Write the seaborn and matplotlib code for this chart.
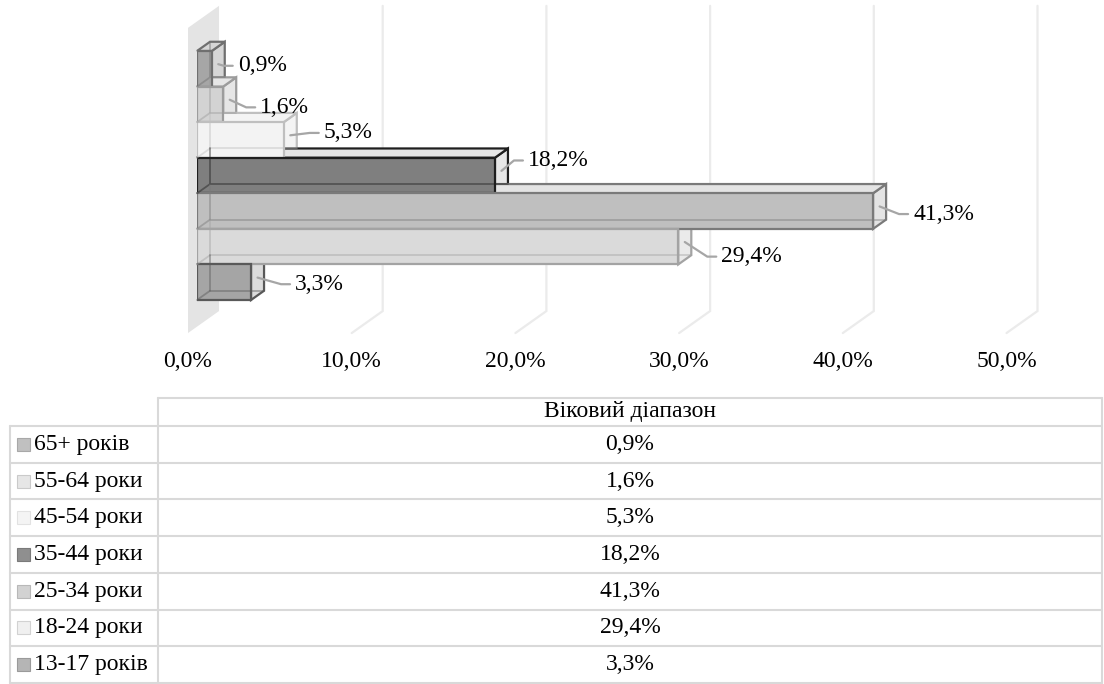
import matplotlib
matplotlib.use("Agg")
import matplotlib.pyplot as plt
from matplotlib.patches import Polygon, Rectangle
from matplotlib.lines import Line2D
import seaborn as sns
import pandas as pd

# ---- data -----------------------------------------------------------------
age_groups = ["65+ років", "55-64 роки", "45-54 роки", "35-44 роки",
              "25-34 роки", "18-24 роки", "13-17 років"]
shares = [0.9, 1.6, 5.3, 18.2, 41.3, 29.4, 3.3]
axis_ticks = [0, 10, 20, 30, 40, 50]
table_title = "Віковий діапазон"

# ---- styling ----------------------------------------------------------------
face_colors = ["#a6a6a6", "#d3d3d3", "#f3f3f3", "#7f7f7f", "#bfbfbf", "#dadada", "#a5a5a5"]
edge_colors = ["#6f6f6f", "#9c9c9c", "#bfbfbf", "#1e1e1e", "#7a7a7a", "#a3a3a3", "#595959"]
shade_colors = ["#d6d6d6", "#e6e6e6", "#f4f4f4", "#e6e6e6", "#e4e4e4", "#eaeaea", "#dcdcdc"]
swatch_colors = ["#c0c0c0", "#e6e6e6", "#f4f4f4", "#8f8f8f", "#d2d2d2", "#f0f0f0", "#b5b5b5"]
swatch_edges = ["#a8a8a8", "#cacaca", "#e2e2e2", "#7a7a7a", "#b8b8b8", "#d2d2d2", "#9a9a9a"]
# label placement relative to the bar end (pixels right, pixels down)
label_shift = [(26, -3), (37, 3), (40, -7), (33, -15), (40, 3), (43, 10), (44, 2)]

W, H, DPI = 1104, 684, 100
FS = 17
GRID = "#ebebeb"
WALL = "#e4e4e4"
LINE = "#d9d9d9"
LEADER = "#a6a6a6"

sns.set_theme(style="white")
plt.rcParams["font.family"] = ["Liberation Serif", "DejaVu Serif"]

fig = plt.figure(figsize=(W / DPI, H / DPI), dpi=DPI)
fig.patch.set_facecolor("white")

# plot area geometry (pixels): bar fronts start at X0, 16.37 px per percent
X0, XSCALE = 197.0, 16.37
Y0, YSCALE = 51.0, 35.57
TOP_PX, BOTTOM_PX = 0.0, 345.0
XMAX = 50
ylim_top = -0.5 - (Y0 - TOP_PX) / YSCALE
ylim_bot = -0.5 + (BOTTOM_PX - Y0) / YSCALE
ax = fig.add_axes([X0 / W, 1 - BOTTOM_PX / H, XSCALE * XMAX / W, (BOTTOM_PX - TOP_PX) / H])

# oblique projection of the 3-D box: depth 0 = front plane, 1 = back wall
DEPTH_DX, DEPTH_DY = 31.0, 22.0
BAR_D0, BAR_D1 = 0.29, 0.71
WALL_TOP, WALL_BOT = -1.33, 7.25


def proj(v, y, d):
    return (v + DEPTH_DX * (d - BAR_D0) / XSCALE,
            y - DEPTH_DY * (d - BAR_D0) / YSCALE)


df = pd.DataFrame({"group": age_groups, "share": shares})
sns.barplot(data=df, x="share", y="group", hue="group", order=age_groups,
            hue_order=age_groups, palette=dict(zip(age_groups, face_colors)),
            width=1.0, saturation=1, legend=False, errorbar=None,
            orient="h", ax=ax)
for p in ax.patches:
    i = int(round(p.get_y() + p.get_height() / 2))
    p.set_edgecolor(edge_colors[i])
    p.set_linewidth(1.6)
    p.set_zorder(5)

ax.set_xlim(0, XMAX)
ax.set_ylim(ylim_bot, ylim_top)
ax.axis("off")

# side wall at the zero value
wall = [proj(0, WALL_TOP, 0), proj(0, WALL_TOP, 1), proj(0, WALL_BOT, 1), proj(0, WALL_BOT, 0)]
ax.add_patch(Polygon(wall, closed=True, facecolor=WALL, edgecolor="none",
                     zorder=1, clip_on=False))

# gridlines on the back wall and floor
for t in axis_ticks[1:]:
    pts = [proj(t, WALL_TOP, 1), proj(t, WALL_BOT, 1), proj(t, WALL_BOT, 0)]
    ax.add_line(Line2D([q[0] for q in pts], [q[1] for q in pts], color=GRID,
                       lw=1.6, zorder=1, clip_on=False, solid_joinstyle="miter"))

# top and end faces of each box, plus the see-through back edges
for i, v in enumerate(shares):
    y0, y1 = i - 0.5, i + 0.5
    top = [proj(0, y0, BAR_D0), proj(v, y0, BAR_D0), proj(v, y0, BAR_D1), proj(0, y0, BAR_D1)]
    side = [proj(v, y0, BAR_D0), proj(v, y0, BAR_D1), proj(v, y1, BAR_D1), proj(v, y1, BAR_D0)]
    for face in (side, top):
        ax.add_patch(Polygon(face, closed=True, facecolor=shade_colors[i],
                             edgecolor=edge_colors[i], lw=1.6,
                             zorder=2 + i * 0.1, clip_on=False))
    back = [proj(0, y0, BAR_D1), proj(0, y1, BAR_D1), proj(v, y1, BAR_D1)]
    ax.add_line(Line2D([q[0] for q in back], [q[1] for q in back],
                       color=edge_colors[i], lw=1.3, alpha=0.45, zorder=6, clip_on=False))
    corner = [proj(0, y1, BAR_D0), proj(0, y1, BAR_D1)]
    ax.add_line(Line2D([q[0] for q in corner], [q[1] for q in corner],
                       color=edge_colors[i], lw=1.3, alpha=0.45, zorder=6, clip_on=False))

# value labels with leader lines
for i, v in enumerate(shares):
    dx, dy = label_shift[i]
    lx = v + dx / XSCALE
    ly = i + dy / YSCALE
    sx, sy = proj(v, i, 0.5)
    ax.add_line(Line2D([sx, lx - 14 / XSCALE, lx - 5 / XSCALE], [sy, ly, ly],
                       color=LEADER, lw=1.6, zorder=7, clip_on=False))
    ax.text(lx, ly, f"{v:.1f}".replace(".", ",") + "%", ha="left", va="center",
            fontsize=FS, color="black", zorder=8)

# value axis labels on the front plane
tick_y = -0.5 + (361 - Y0) / YSCALE
for t in axis_ticks:
    tx = proj(t, 0, 0)[0]
    ax.text(tx, tick_y, f"{t:.1f}".replace(".", ",") + "%", ha="center",
            va="center", fontsize=FS, color="black", clip_on=False)

# ---- data table ---------------------------------------------------------------
tab = fig.add_axes([0, 0, 1, 1])
tab.set_xlim(0, W)
tab.set_ylim(H, 0)
tab.axis("off")
tab.patch.set_visible(False)

T_LEFT, T_SPLIT, T_RIGHT = 10, 158, 1102
HEAD_TOP, BODY_TOP, ROW_H = 398, 426, 36.71
n = len(age_groups)
body_bot = BODY_TOP + n * ROW_H
lw_tab = 1.5

tab.plot([T_SPLIT, T_RIGHT], [HEAD_TOP, HEAD_TOP], color=LINE, lw=lw_tab)
for k in range(n + 1):
    yy = BODY_TOP + k * ROW_H
    tab.plot([T_LEFT, T_RIGHT], [yy, yy], color=LINE, lw=lw_tab)
tab.plot([T_LEFT, T_LEFT], [BODY_TOP, body_bot], color=LINE, lw=lw_tab)
tab.plot([T_SPLIT, T_SPLIT], [HEAD_TOP, body_bot], color=LINE, lw=lw_tab)
tab.plot([T_RIGHT, T_RIGHT], [HEAD_TOP, body_bot], color=LINE, lw=lw_tab)

mid = (T_SPLIT + T_RIGHT) / 2
tab.text(mid, (HEAD_TOP + BODY_TOP) / 2, table_title, ha="center", va="center",
         fontsize=FS, color="black")
for k, (g, v) in enumerate(zip(age_groups, shares)):
    cy = BODY_TOP + (k + 0.5) * ROW_H
    tab.add_patch(Rectangle((16.5, cy - 6.5), 13, 13, facecolor=swatch_colors[k],
                            edgecolor=swatch_edges[k], lw=0.8))
    tab.text(34, cy, g, ha="left", va="center", fontsize=FS, color="black")
    tab.text(mid, cy, f"{v:.1f}".replace(".", ",") + "%", ha="center",
             va="center", fontsize=FS, color="black")

fig.savefig("out.png", dpi=DPI, facecolor="white")
